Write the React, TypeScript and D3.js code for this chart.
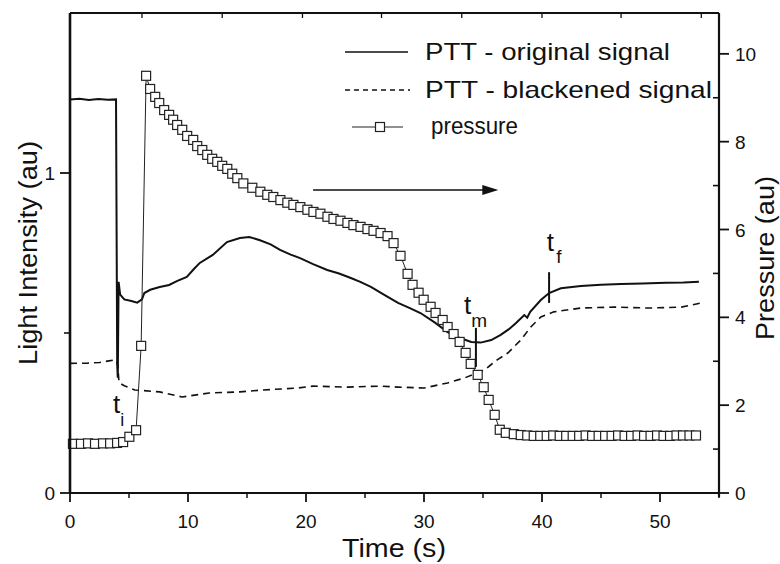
import React from "react";
import * as d3 from "d3";

// ---- data ----
const solidT = [0.0, 0.8, 1.6, 2.4, 3.2, 3.9, 4.0, 4.05, 4.12, 4.25, 4.6, 5.2, 5.7, 6.1, 6.3, 6.8, 7.6, 8.4, 9.1, 9.9, 10.5, 11.0, 12.1, 13.3, 14.4, 15.2, 16.1, 17.0, 17.8, 18.7, 19.5, 20.6, 21.8, 22.8, 23.8, 24.6, 25.5, 26.6, 27.8, 28.8, 29.7, 30.9, 32.0, 33.0, 34.0, 34.8, 35.7, 36.5, 37.2, 37.8, 38.5, 38.75, 39.0, 39.9, 40.6, 41.6, 43.3, 45.0, 46.7, 48.5, 50.5, 52.0, 53.3];
const solidV = [1.23, 1.232, 1.228, 1.231, 1.229, 1.23, 0.40, 0.36, 0.66, 0.62, 0.605, 0.60, 0.595, 0.605, 0.625, 0.635, 0.644, 0.65, 0.663, 0.675, 0.70, 0.719, 0.744, 0.784, 0.797, 0.80, 0.79, 0.777, 0.76, 0.745, 0.734, 0.715, 0.697, 0.686, 0.672, 0.66, 0.644, 0.62, 0.594, 0.578, 0.5625, 0.533, 0.503, 0.485, 0.472, 0.470, 0.478, 0.494, 0.512, 0.531, 0.556, 0.548, 0.566, 0.603, 0.625, 0.64, 0.647, 0.651, 0.653, 0.655, 0.657, 0.658, 0.66];

const dashT = [0.0, 1.5, 2.5, 3.3, 3.9, 4.05, 4.15, 4.6, 5.5, 7.6, 9.5, 11.8, 14.4, 16.4, 19.3, 20.6, 23.5, 26.3, 27.8, 30.0, 32.0, 33.4, 34.3, 35.1, 35.65, 36.2, 37.1, 38.2, 39.05, 39.9, 41.0, 43.3, 46.1, 49.0, 51.8, 53.5];
const dashV = [0.405, 0.406, 0.408, 0.413, 0.416, 0.40, 0.345, 0.335, 0.322, 0.316, 0.30, 0.3125, 0.316, 0.322, 0.328, 0.334, 0.331, 0.334, 0.331, 0.328, 0.344, 0.359, 0.372, 0.384, 0.40, 0.416, 0.4375, 0.478, 0.519, 0.55, 0.566, 0.578, 0.581, 0.578, 0.581, 0.594];

const presT = [0.25, 0.93, 1.53, 2.12, 2.8, 3.4, 3.99, 4.5, 5.03, 5.6, 6.03, 6.45, 6.79, 7.22, 7.56, 7.98, 8.4, 8.74, 9.08, 9.51, 9.93, 10.44, 10.78, 11.21, 11.63, 12.05, 12.48, 12.9, 13.33, 13.75, 14.18, 14.69, 15.45, 16.13, 16.72, 17.23, 17.83, 18.42, 18.93, 19.52, 20.12, 20.63, 21.22, 21.82, 22.33, 22.92, 23.51, 24.02, 24.62, 25.21, 25.72, 26.32, 26.91, 27.42, 28.01, 28.61, 29.03, 29.54, 29.97, 30.56, 30.98, 31.58, 32.0, 32.51, 33.02, 33.53, 33.96, 34.55, 35.06, 35.48, 35.99, 36.42, 36.93, 37.61, 38.2, 38.75, 39.3, 39.85, 40.4, 40.95, 41.5, 42.05, 42.6, 43.15, 43.7, 44.25, 44.8, 45.35, 45.9, 46.45, 47.0, 47.55, 48.1, 48.65, 49.2, 49.75, 50.3, 50.85, 51.4, 51.95, 52.5, 53.05];
const presV = [1.12, 1.12, 1.13, 1.12, 1.13, 1.13, 1.14, 1.16, 1.28, 1.43, 3.35, 9.5, 9.2, 9.02, 8.88, 8.72, 8.61, 8.5, 8.38, 8.27, 8.13, 8.04, 7.9, 7.81, 7.7, 7.61, 7.54, 7.45, 7.38, 7.27, 7.17, 7.05, 6.95, 6.86, 6.79, 6.74, 6.67, 6.61, 6.56, 6.51, 6.45, 6.4, 6.36, 6.29, 6.24, 6.2, 6.15, 6.1, 6.06, 6.01, 5.97, 5.92, 5.85, 5.69, 5.4, 4.99, 4.74, 4.56, 4.4, 4.24, 4.1, 3.94, 3.78, 3.62, 3.44, 3.19, 2.94, 2.69, 2.41, 2.12, 1.78, 1.44, 1.37, 1.34, 1.32, 1.31, 1.3, 1.3, 1.3, 1.31, 1.3, 1.3, 1.3, 1.3, 1.31, 1.3, 1.3, 1.3, 1.3, 1.31, 1.3, 1.3, 1.31, 1.3, 1.3, 1.31, 1.3, 1.3, 1.31, 1.31, 1.31, 1.31];

const xMajor = [0, 10, 20, 30, 40, 50];
const xMinor = [5, 15, 25, 35, 45, 55];
const topTicks = [6.1, 12.9, 19.7, 26.4, 33.2, 40.0, 46.7, 53.5];
const yLMajor = [0, 1];
const yLMinor = [0.5];
const yRMajor = [0, 2, 4, 6, 8, 10];
const yRMinor = [1, 3, 5, 7, 9];

const legendLabels = ["PTT - original signal", "PTT - blackened signal", "pressure"];

export default function App() {
  const W = 780, H = 564;
  const left = 70, right = 719, top = 13, bottom = 493;
  const x = d3.scaleLinear().domain([0, 55]).range([left, right]);
  const yL = d3.scaleLinear().domain([0, 1.5]).range([bottom, top]);
  const yR = d3.scaleLinear().domain([0, 10.93]).range([bottom, top]);

  const solid = solidT.map((t, i) => [t, solidV[i]] as [number, number]);
  const dash = dashT.map((t, i) => [t, dashV[i]] as [number, number]);
  const pres = presT.map((t, i) => [t, presV[i]] as [number, number]);

  const lineLin = d3.line<[number, number]>().x(d => x(d[0])).y(d => yL(d[1]));
  const lineR = d3.line<[number, number]>().x(d => x(d[0])).y(d => yR(d[1]));

  const font = "'Liberation Sans', Arial, sans-serif";
  const sq = 9;

  // annotations
  const arrowY = yL(0.947);
  const arrowX1 = x(20.6), arrowX2 = x(36.3);

  return (
    <svg width={W} height={H} style={{ position: "absolute", left: 0, top: 0, background: "#fff" }} fontFamily={font}>
      <rect x={0} y={0} width={W} height={H} fill="#fff" />
      {/* data lines */}
      <path d={lineLin(dash) || ""} fill="none" stroke="#111" strokeWidth={1.6} strokeDasharray="7,5" />
      <path d={lineLin(solid) || ""} fill="none" stroke="#111" strokeWidth={2} />
      <path d={lineR(pres) || ""} fill="none" stroke="#222" strokeWidth={1} />
      {pres.map((d, i) => (
        <rect key={i} x={x(d[0]) - sq / 2} y={yR(d[1]) - sq / 2} width={sq} height={sq} fill="#fff" stroke="#222" strokeWidth={1.2} />
      ))}

      {/* frame */}
      <line x1={left} x2={right} y1={top} y2={top} stroke="#111" strokeWidth={2.2} />
      <line x1={left} x2={right} y1={bottom} y2={bottom} stroke="#111" strokeWidth={2.2} />
      <line x1={left} x2={left} y1={top} y2={bottom} stroke="#111" strokeWidth={2.6} />
      <line x1={right} x2={right} y1={top} y2={bottom + 4} stroke="#111" strokeWidth={2.2} />

      {/* bottom axis */}
      {xMajor.map(t => (
        <g key={"xm" + t}>
          <line x1={x(t)} x2={x(t)} y1={bottom} y2={bottom + 9} stroke="#111" strokeWidth={1.8} />
          <text x={x(t)} y={528} fontSize={19} textAnchor="middle" fill="#111">{t}</text>
        </g>
      ))}
      {xMinor.map(t => (
        <line key={"xn" + t} x1={x(t)} x2={x(t)} y1={bottom} y2={bottom + 5} stroke="#111" strokeWidth={1.5} />
      ))}
      {topTicks.map(t => (
        <line key={"tt" + t} x1={x(t)} x2={x(t)} y1={top} y2={top + 5} stroke="#111" strokeWidth={1.3} />
      ))}

      {/* left axis */}
      {yLMajor.map(v => (
        <g key={"yl" + v}>
          <line x1={left - 10} x2={left} y1={yL(v)} y2={yL(v)} stroke="#111" strokeWidth={1.8} />
          <text x={55} y={yL(v) + 7} fontSize={19} textAnchor="end" fill="#111">{v}</text>
        </g>
      ))}
      {yLMinor.map(v => (
        <line key={"yln" + v} x1={left - 6} x2={left} y1={yL(v)} y2={yL(v)} stroke="#111" strokeWidth={1.6} />
      ))}

      {/* right axis */}
      {yRMajor.map(v => (
        <g key={"yr" + v}>
          <line x1={right} x2={right + 10} y1={yR(v)} y2={yR(v)} stroke="#111" strokeWidth={1.8} />
          <text x={735} y={yR(v) + 7} fontSize={19} textAnchor="start" fill="#111">{v}</text>
        </g>
      ))}
      {yRMinor.map(v => (
        <line key={"yrn" + v} x1={right - 6} x2={right} y1={yR(v)} y2={yR(v)} stroke="#111" strokeWidth={1.6} />
      ))}

      {/* axis titles */}
      <text x={394} y={557} fontSize={26} textAnchor="middle" fill="#111" textLength={104} lengthAdjust="spacingAndGlyphs">Time (s)</text>
      <text transform={`translate(37,253) rotate(-90)`} fontSize={26} textAnchor="middle" fill="#111" textLength={224} lengthAdjust="spacingAndGlyphs">Light Intensity (au)</text>
      <text transform={`translate(774,258) rotate(-90)`} fontSize={26} textAnchor="middle" fill="#111" textLength={164} lengthAdjust="spacingAndGlyphs">Pressure (au)</text>

      {/* legend */}
      <line x1={345} x2={408} y1={52} y2={52} stroke="#111" strokeWidth={1.6} />
      <line x1={345} x2={410} y1={90} y2={90} stroke="#111" strokeWidth={1.4} strokeDasharray="5,4" />
      <line x1={352} x2={403} y1={127} y2={127} stroke="#222" strokeWidth={1} />
      <rect x={380 - sq / 2} y={127 - sq / 2} width={sq} height={sq} fill="#fff" stroke="#222" strokeWidth={1.2} />
      <text x={425} y={60} fontSize={24} fill="#111" textLength={245} lengthAdjust="spacingAndGlyphs">{legendLabels[0]}</text>
      <text x={425} y={98} fontSize={24} fill="#111" textLength={287} lengthAdjust="spacingAndGlyphs">{legendLabels[1]}</text>
      <text x={431} y={134} fontSize={24} fill="#111" textLength={87} lengthAdjust="spacingAndGlyphs">{legendLabels[2]}</text>

      {/* arrow */}
      <line x1={arrowX1} x2={arrowX2 - 12} y1={arrowY} y2={arrowY} stroke="#111" strokeWidth={1.6} />
      <path d={`M${arrowX2},${arrowY} L${arrowX2 - 16},${arrowY - 5} L${arrowX2 - 16},${arrowY + 5} Z`} fill="#111" />

      {/* t_i */}
      <text x={x(3.65)} y={yL(0.25)} fontSize={26} fill="#111">t</text>
      <text x={x(4.25)} y={yL(0.21)} fontSize={18} fill="#111">i</text>
      {/* t_m */}
      <text x={x(33.4)} y={yL(0.56)} fontSize={26} fill="#111">t</text>
      <text x={x(34.0)} y={yL(0.52)} fontSize={19} fill="#111">m</text>
      <line x1={x(34.4)} x2={x(34.4)} y1={yL(0.516)} y2={yL(0.394)} stroke="#111" strokeWidth={2} />
      {/* t_f */}
      <text x={x(40.4)} y={yL(0.755)} fontSize={26} fill="#111">t</text>
      <text x={x(41.2)} y={yL(0.72)} fontSize={19} fill="#111">f</text>
      <line x1={x(40.6)} x2={x(40.6)} y1={yL(0.69)} y2={yL(0.594)} stroke="#111" strokeWidth={2} />
    </svg>
  );
}
